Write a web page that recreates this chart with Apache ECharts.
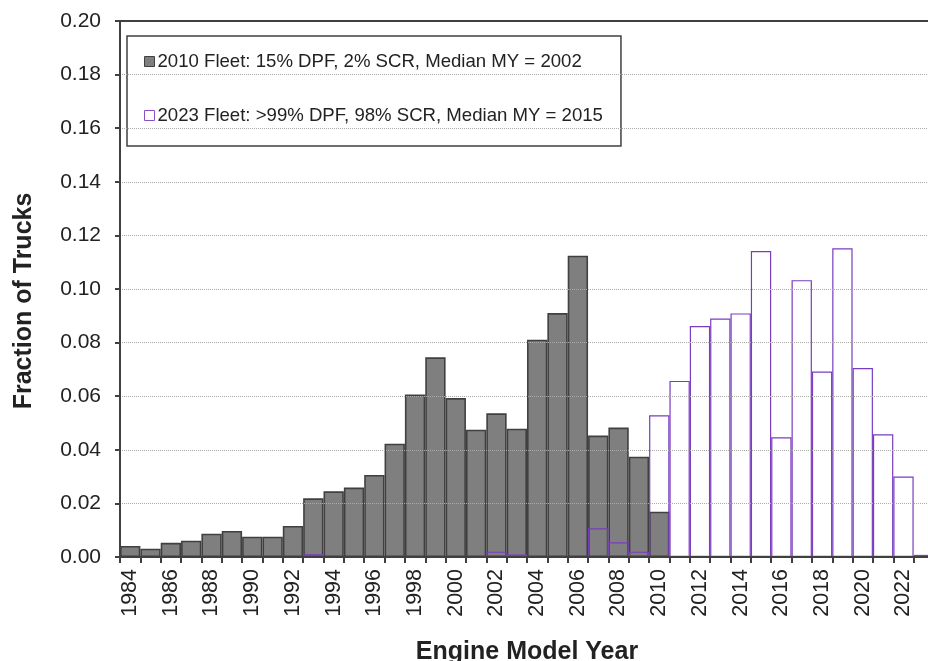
<!DOCTYPE html>
<html>
<head>
<meta charset="utf-8">
<script src="https://cdn.jsdelivr.net/npm/echarts@6/dist/echarts.min.js"></script>
<style>
  html, body { margin: 0; padding: 0; background: #fff; }
  #chart { width: 928px; height: 661px; }
</style>
</head>
<body>
<div id="chart"></div>
<script>
// engine model years on the x axis
var years = []
for (var y = 1984; y <= 2023; y++) years.push(String(y))

// fraction of trucks by model year
var fleet2010 = [
  0.0041, 0.0031, 0.0053, 0.0061, 0.0087, 0.0097, 0.0076, 0.0076, 0.0116, 0.0219,
  0.0245, 0.0259, 0.0306, 0.0423, 0.0606, 0.0745, 0.0593, 0.0475, 0.0536, 0.0479,
  0.0811, 0.0910, 0.1124, 0.0453, 0.0483, 0.0374, 0.0169, 0, 0, 0,
  0, 0, 0, 0, 0, 0, 0, 0, 0, 0
]
var fleet2023 = [
  0, 0, 0, 0, 0, 0, 0, 0, 0, 0.0010,
  0, 0, 0, 0, 0, 0, 0, 0, 0.0020, 0.0009,
  0, 0, 0, 0.0107, 0.0055, 0.0020, 0.0529, 0.0657, 0.0862, 0.0890,
  0.0909, 0.1142, 0.0447, 0.1033, 0.0692, 0.1152, 0.0705, 0.0458, 0.0300, 0.0008
]

var name2010 = '2010 Fleet: 15% DPF, 2% SCR, Median MY = 2002'
var name2023 = '2023 Fleet: >99% DPF, 98% SCR, Median MY = 2015'

var chart = echarts.init(document.getElementById('chart'))

var option = {
  animation: false,
  textStyle: { fontFamily: 'Liberation Sans, Arial, sans-serif', color: '#222' },
  grid: { left: 120, top: 21, width: 814, height: 536, containLabel: false, outerBoundsMode: 'none' },
  legend: {
    orient: 'vertical',
    left: 127,
    top: 36,
    padding: [16, 18, 21, 17],
    itemGap: 35,
    itemWidth: 10,
    itemHeight: 10,
    backgroundColor: '#fff',
    borderColor: '#404040',
    borderWidth: 1.5,
    textStyle: { fontSize: 18.6, color: '#222', padding: [0, 0, 0, -2] },
    data: [
      { name: name2010, icon: 'rect', itemStyle: { color: '#7f7f7f', borderColor: '#404040', borderWidth: 1 } },
      { name: name2023, icon: 'rect', itemStyle: { color: '#fff', borderColor: '#8a4fc8', borderWidth: 1 } }
    ]
  },
  xAxis: [{
    type: 'category',
    data: years,
    z: 5,
    name: 'Engine Model Year',
    nameLocation: 'middle',
    nameGap: 83,
    nameTextStyle: { fontSize: 25, fontWeight: 'bold', color: '#222' },
    axisLine: { lineStyle: { color: '#404040', width: 2 } },
    axisTick: { show: true, interval: 0, length: 6, lineStyle: { color: '#404040', width: 2 } },
    axisLabel: { interval: 1, rotate: 90, margin: 12, fontSize: 21.5, color: '#222' },
    splitLine: { show: false }
  }, {
    type: 'category',
    data: years,
    position: 'top',
    z: 5,
    axisLine: { lineStyle: { color: '#404040', width: 2 } },
    axisTick: { show: false },
    axisLabel: { show: false },
    splitLine: { show: false }
  }],
  yAxis: {
    type: 'value',
    min: 0,
    max: 0.2,
    interval: 0.02,
    z: 5,
    name: 'Fraction of Trucks',
    nameLocation: 'middle',
    nameGap: 83,
    nameTextStyle: { fontSize: 25, fontWeight: 'bold', color: '#222', padding: [0, 24, 0, 0] },
    axisLine: { show: true, lineStyle: { color: '#404040', width: 2 } },
    axisTick: { show: true, length: 5, lineStyle: { color: '#404040', width: 2 } },
    axisLabel: {
      fontSize: 21,
      color: '#222',
      margin: 19,
      formatter: function (v) { return v.toFixed(2) }
    },
    splitLine: { show: true, lineStyle: { color: '#aaa', type: 'dotted', width: 1 } }
  },
  series: [
    {
      name: name2010,
      type: 'bar',
      xAxisIndex: 0,
      data: fleet2010,
      barCategoryGap: 0,
      barGap: '-100%',
      itemStyle: { color: '#7f7f7f', borderColor: '#404040', borderWidth: 1.6 }
    },
    {
      name: name2023,
      type: 'bar',
      xAxisIndex: 0,
      data: fleet2023,
      barCategoryGap: 0,
      barGap: '-100%',
      itemStyle: { color: 'rgba(255,255,255,0)', borderColor: '#7a3cc0', borderWidth: 1.2 }
    }
  ]
}

chart.setOption(option)
</script>
</body>
</html>
